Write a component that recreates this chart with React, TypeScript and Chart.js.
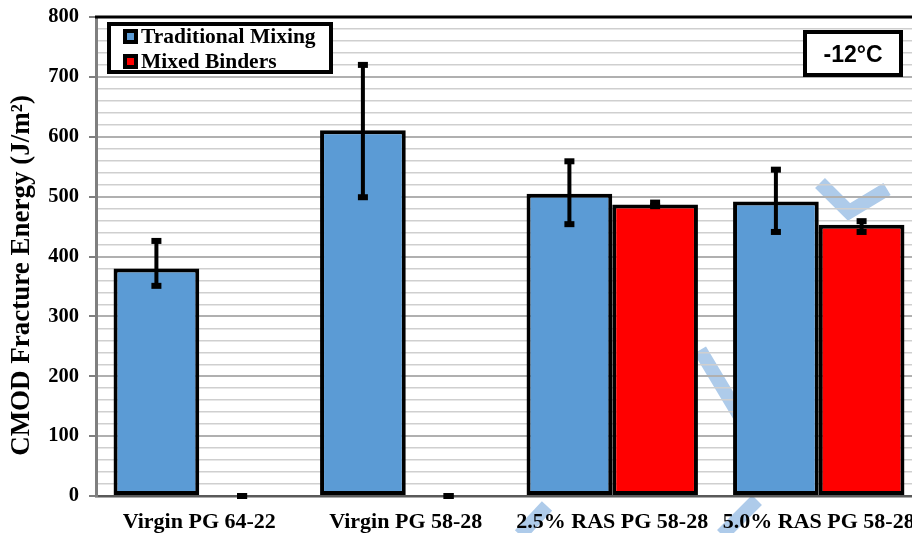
import React, { useEffect, useRef } from 'react';
import { Chart, registerables } from 'chart.js';

Chart.register(...registerables);

const categories = ['Virgin PG 64-22', 'Virgin PG 58-28', '2.5% RAS PG 58-28', '5.0% RAS PG 58-28'];
const seriesNames = ['Traditional Mixing', 'Mixed Binders'];
const seriesColors = ['#5b9bd5', '#ff0000'];
const traditional = [380, 611, 505, 492];
const traditionalErrUp = [46, 109, 54, 53];
const traditionalErrDown = [29, 112, 51, 51];
const mixed = [0, 0, 487, 453];
const mixedErrUp = [0, 0, 3, 6];
const mixedErrDown = [0, 0, 3, 12];
const yMin = 0;
const yMax = 800;
const yMinorStep = 20;
const yMajorStep = 100;
const yTitle = 'CMOD Fracture Energy (J/m²)';
const tempLabel = '-12°C';

const errUp = [traditionalErrUp, mixedErrUp];
const errDown = [traditionalErrDown, mixedErrDown];

const SERIF = "'Liberation Serif', 'Times New Roman', serif";
const SANS = "'Liberation Sans', Arial, sans-serif";

const errorBarPlugin = {
  id: 'errorBars',
  afterDatasetsDraw(chart: any) {
    const ctx = chart.ctx;
    const yScale = chart.scales.y;
    ctx.save();
    chart.data.datasets.forEach((ds: any, i: number) => {
      const meta = chart.getDatasetMeta(i);
      meta.data.forEach((el: any, j: number) => {
        const v = ds.data[j];
        const yTop = yScale.getPixelForValue(v + errUp[i][j]);
        const yBot = yScale.getPixelForValue(v - errDown[i][j]);
        const x = el.x;
        ctx.strokeStyle = '#000';
        ctx.fillStyle = '#000';
        ctx.lineWidth = 4;
        if (yBot - yTop > 1) {
          ctx.beginPath();
          ctx.moveTo(x, yTop);
          ctx.lineTo(x, yBot);
          ctx.stroke();
        }
        ctx.fillRect(x - 5, yTop - 3, 10, 6);
        ctx.fillRect(x - 5, yBot - 3, 10, 6);
      });
    });
    ctx.restore();
  },
};

const decorPlugin = {
  id: 'decor',
  beforeDraw(chart: any) {
    // light blue watermark strokes
    const ctx = chart.ctx;
    ctx.save();
    ctx.strokeStyle = '#aecbea';
    ctx.lineWidth = 14;
    ctx.lineCap = 'butt';
    ctx.lineJoin = 'miter';
    ctx.beginPath();
    ctx.moveTo(820, 183);
    ctx.lineTo(849, 212);
    ctx.lineTo(887, 189);
    ctx.stroke();
    ctx.beginPath();
    ctx.moveTo(700, 350);
    ctx.lineTo(742, 420);
    ctx.stroke();
    ctx.beginPath();
    ctx.moveTo(757, 500);
    ctx.lineTo(722, 535);
    ctx.stroke();
    ctx.beginPath();
    ctx.moveTo(547, 506);
    ctx.lineTo(520, 535);
    ctx.stroke();
    ctx.restore();
  },
  afterDraw(chart: any) {
    const ctx = chart.ctx;
    const area = chart.chartArea;
    ctx.save();
    // top frame line
    ctx.strokeStyle = '#000';
    ctx.lineWidth = 3;
    ctx.beginPath();
    ctx.moveTo(area.left - 1, area.top);
    ctx.lineTo(area.right, area.top);
    ctx.stroke();

    // legend box
    const L = area.left + 11;
    const T = area.top + 5;
    const W = 226;
    const H = 52;
    ctx.fillStyle = '#fff';
    ctx.fillRect(L, T, W, H);
    ctx.lineWidth = 4;
    ctx.strokeStyle = '#000';
    ctx.strokeRect(L + 2, T + 2, W - 4, H - 4);
    ctx.font = `bold 21.5px ${SERIF}`;
    ctx.textAlign = 'left';
    ctx.textBaseline = 'alphabetic';
    seriesNames.forEach((name, i) => {
      const my = T + 7 + i * 25;
      const mx = L + 16;
      ctx.fillStyle = '#000';
      ctx.fillRect(mx, my, 15, 15);
      ctx.fillStyle = chart.data.datasets[i].backgroundColor;
      ctx.fillRect(mx + 4, my + 4, 7, 7);
      ctx.fillStyle = '#000';
      ctx.fillText(name, mx + 18, my + 14);
    });

    // temperature box
    const bR = area.right - 19;
    const bL = bR - 100;
    const bT = area.top + 13;
    const bH = 47;
    ctx.fillStyle = '#fff';
    ctx.fillRect(bL, bT, bR - bL, bH);
    ctx.strokeStyle = '#000';
    ctx.lineWidth = 4;
    ctx.strokeRect(bL + 2, bT + 2, bR - bL - 4, bH - 4);
    ctx.fillStyle = '#000';
    ctx.font = `bold 23px ${SANS}`;
    ctx.textAlign = 'center';
    ctx.fillText(tempLabel, (bL + bR) / 2, bT + 32);

    // y axis title
    ctx.translate(29, (area.top + area.bottom) / 2 + 19);
    ctx.rotate(-Math.PI / 2);
    ctx.font = `bold 27px ${SERIF}`;
    ctx.textAlign = 'center';
    ctx.textBaseline = 'alphabetic';
    ctx.fillText(yTitle, 0, 0);
    ctx.restore();
  },
};

export default function App() {
  const canvasRef = useRef<HTMLCanvasElement>(null);

  useEffect(() => {
    const canvas = canvasRef.current;
    if (!canvas) return;
    const chart = new Chart(canvas, {
      type: 'bar',
      data: {
        labels: categories,
        datasets: [
          {
            label: seriesNames[0],
            data: traditional,
            backgroundColor: seriesColors[0],
            borderColor: '#000',
            borderWidth: 4,
            borderSkipped: false,
            categoryPercentage: 0.83,
            barPercentage: 1,
          },
          {
            label: seriesNames[1],
            data: mixed,
            backgroundColor: seriesColors[1],
            borderColor: '#000',
            borderWidth: 4,
            borderSkipped: false,
            categoryPercentage: 0.83,
            barPercentage: 1,
          },
        ],
      },
      options: {
        responsive: false,
        animation: false,
        layout: { padding: { top: 17, right: 8, left: 0, bottom: 0 } },
        plugins: {
          legend: { display: false },
          tooltip: { enabled: false },
        },
        scales: {
          x: {
            grid: { display: false },
            border: { color: '#595959', width: 2.5 },
            ticks: {
              color: '#000',
              font: { family: SERIF, size: 22, weight: 'bold' },
              padding: 5,
              maxRotation: 0,
              autoSkip: false,
            },
            afterFit: (s: any) => {
              s.height = 37;
              s.paddingLeft = 0;
              s.paddingRight = 0;
            },
          },
          y: {
            min: yMin,
            max: yMax,
            border: { color: '#7f7f7f', width: 3 },
            grid: {
              color: (c: any) => (c.tick && c.tick.value % yMajorStep === 0 ? '#b0b0b0' : '#cfcfcf'),
              lineWidth: (c: any) => (c.tick && c.tick.value % yMajorStep === 0 ? 2 : 1.5),
              tickColor: (c: any) => (c.tick && c.tick.value % yMajorStep === 0 ? '#7f7f7f' : 'rgba(0,0,0,0)'),
              tickLength: 7,
              tickWidth: 2,
            },
            ticks: {
              stepSize: yMinorStep,
              autoSkip: false,
              color: '#000',
              padding: 10,
              font: { family: SERIF, size: 20.5, weight: 'bold' },
              callback: (v: any) => (Number(v) % yMajorStep === 0 ? String(v) : ''),
            },
            afterFit: (s: any) => {
              s.width = 96;
              s.paddingTop = 0;
              s.paddingBottom = 0;
            },
          },
        },
      },
      plugins: [decorPlugin, errorBarPlugin],
    } as any);
    return () => chart.destroy();
  }, []);

  return (
    <div style={{ position: 'fixed', left: 0, top: 0, width: 912, height: 533, overflow: 'hidden', background: '#fff' }}>
      <canvas ref={canvasRef} width={930} height={533} style={{ width: 930, height: 533, display: 'block' }} />
    </div>
  );
}
